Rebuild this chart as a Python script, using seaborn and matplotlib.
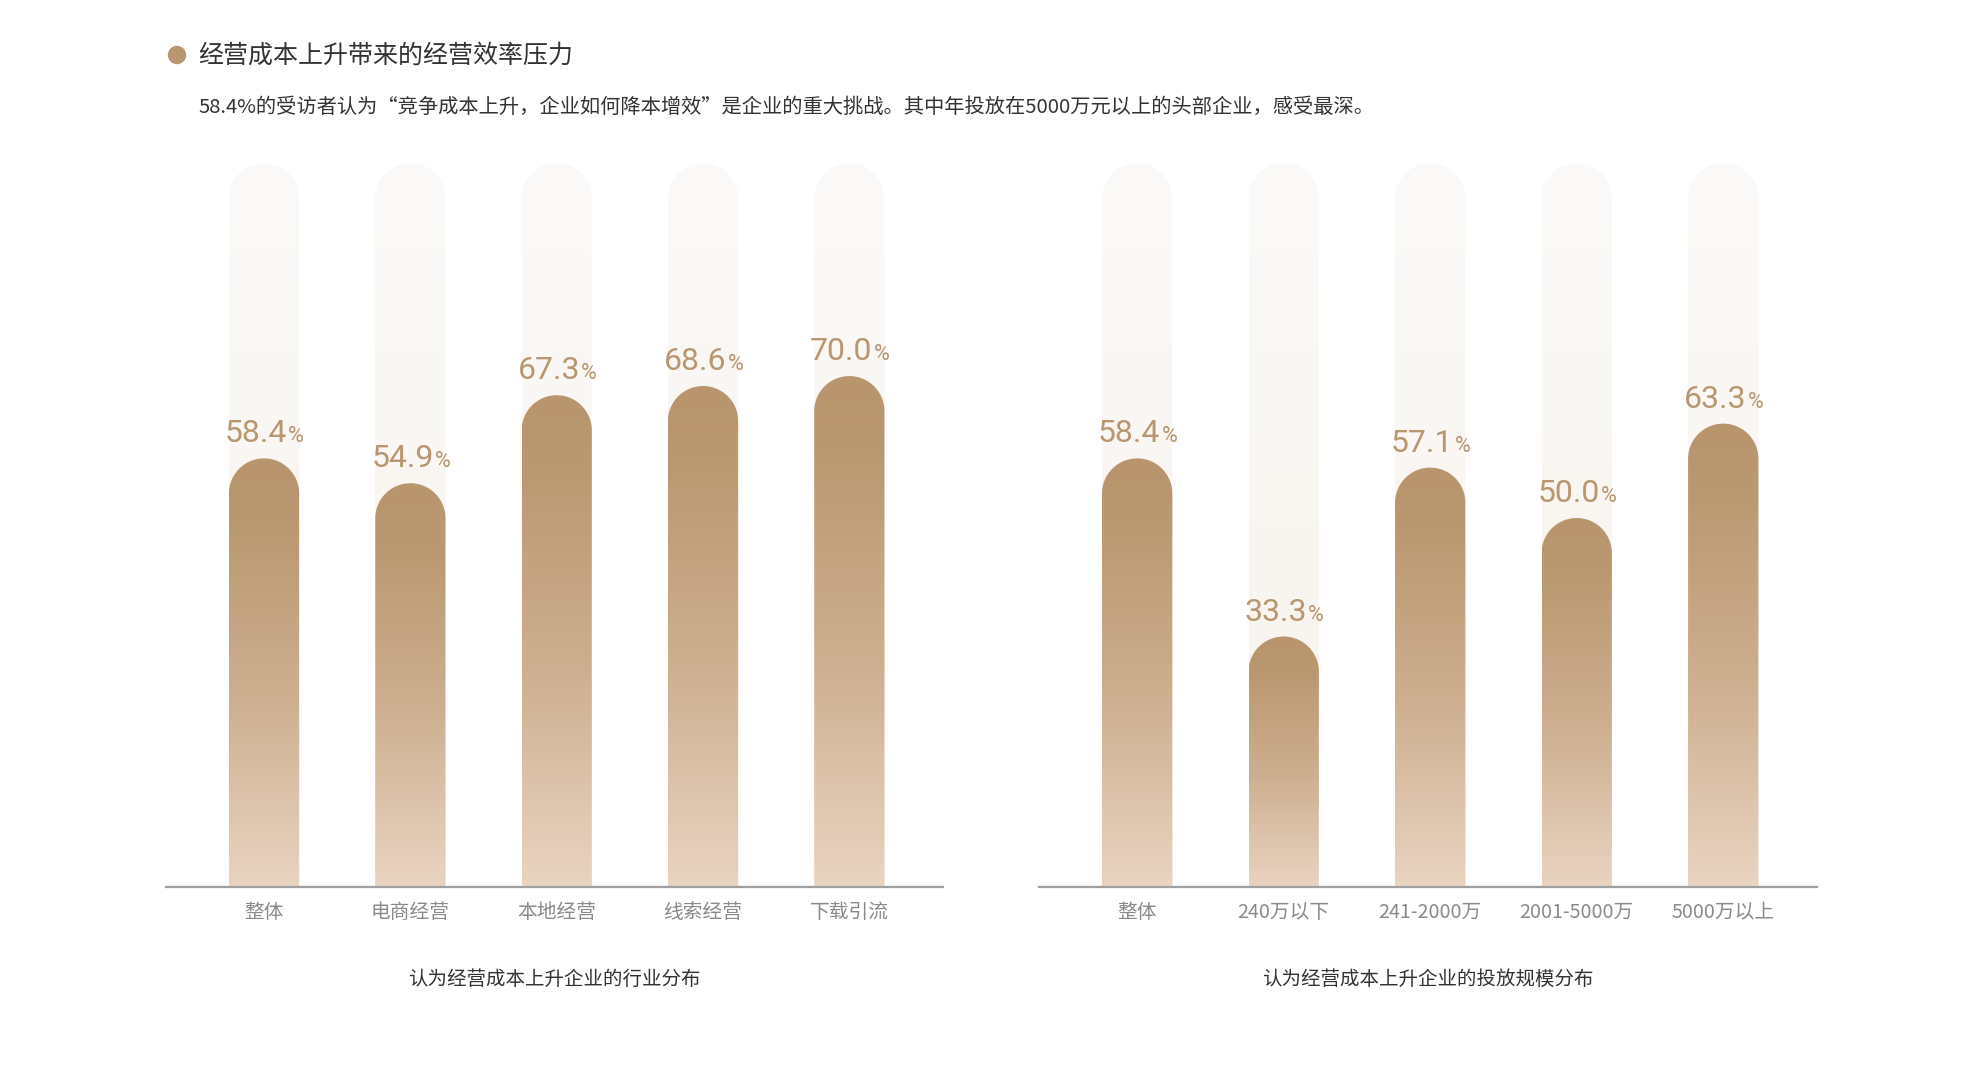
import numpy as np
import pandas as pd
import matplotlib
matplotlib.use('Agg')
import matplotlib.pyplot as plt
import seaborn as sns
from matplotlib.path import Path
from matplotlib.patches import PathPatch, Ellipse
from matplotlib.colors import LinearSegmentedColormap

# ---------------- data ----------------
industry_cats = ['整体', '电商经营', '本地经营', '线索经营', '下载引流']
industry_vals = [58.4, 54.9, 67.3, 68.6, 70.0]
scale_cats = ['整体', '240万以下', '241-2000万', '2001-5000万', '5000万以上']
scale_vals = [58.4, 33.3, 57.1, 50.0, 63.3]
full_scale = [100, 100, 100, 100, 100]

title = '经营成本上升带来的经营效率压力'
subtitle = ('58.4%的受访者认为“竞争成本上升，企业如何降本增效”是企业的重大挑战。'
            '其中年投放在5000万元以上的头部企业，感受最深。')
panel_titles = ['认为经营成本上升企业的行业分布', '认为经营成本上升企业的投放规模分布']

# ---------------- style ----------------
sns.set_theme(style='white')
plt.rcParams['font.family'] = ['Noto Sans CJK SC', 'DejaVu Sans']

ACCENT = '#B8966F'
BAR_CMAP = LinearSegmentedColormap.from_list(
    'bar', [(0.0, '#E9D4C1'), (0.45, '#CDAE8F'), (0.85, '#BA9871'), (1.0, '#B8956D')])
BG_CMAP = LinearSegmentedColormap.from_list('bg', ['#F7F2ED', '#F9F6F2', '#FBFAF8'])
CAP_EXTRA = 2.0
XLIM = (-0.67, 4.64)
YLIM = (0, 104)
BAR_W = 0.48

W, H = 1981, 1080
fig = plt.figure(figsize=(W / 100, H / 100), dpi=100)
fig.patch.set_facecolor('white')


def capsule(ax, x0, w, top, k_x, k_y):
    r_px = w * k_x / 2
    ry = r_px / k_y
    xc = x0 + w / 2
    th = np.linspace(np.pi, 0, 80)
    xs = np.concatenate([[x0, x0], xc + w / 2 * np.cos(th), [x0 + w, x0 + w]])
    ys = np.concatenate([[-5, top - ry], top - ry + ry * np.sin(th), [top - ry, -5]])
    verts = np.column_stack([xs, ys])
    verts = np.vstack([verts, verts[0]])
    codes = [Path.MOVETO] + [Path.LINETO] * (len(verts) - 2) + [Path.CLOSEPOLY]
    return PathPatch(Path(verts, codes), facecolor='none', edgecolor='none',
                     transform=ax.transData)


def draw_panel(ax, cats, vals, ptitle):
    df = pd.DataFrame({'cat': cats, 'val': vals, 'full': full_scale})
    sns.barplot(data=df, x='cat', y='full', ax=ax, width=BAR_W, color='#F8F4F0',
                saturation=1, errorbar=None)
    n_bg = len(ax.patches)
    sns.barplot(data=df, x='cat', y='val', ax=ax, width=BAR_W, color=ACCENT,
                saturation=1, errorbar=None)
    ax.set_xlim(*XLIM)
    ax.set_ylim(*YLIM)
    bbox = ax.get_window_extent()
    k_x = bbox.width / (XLIM[1] - XLIM[0])
    k_y = bbox.height / (YLIM[1] - YLIM[0])
    renderer = fig.canvas.get_renderer()
    grad = np.linspace(0, 1, 256).reshape(-1, 1)
    patches = list(ax.patches)
    for i, p in enumerate(patches):
        x0, w, h = p.get_x(), p.get_width(), p.get_height()
        p.remove()
        is_bg = i < n_bg
        top = h + CAP_EXTRA
        cap = capsule(ax, x0, w, top, k_x, k_y)
        ax.add_patch(cap)
        im = ax.imshow(grad, cmap=BG_CMAP if is_bg else BAR_CMAP, origin='lower',
                       extent=[x0, x0 + w, 0, top], aspect='auto',
                       interpolation='bicubic', zorder=1 if is_bg else 2)
        im.set_clip_path(cap)
        if not is_bg:
            xc = x0 + w / 2
            num = f'{h:.1f}'
            t1 = ax.annotate(num, xy=(xc, top), xytext=(0, 11.5), textcoords='offset points',
                             ha='left', va='baseline', fontsize=23, color=ACCENT,
                             family='Roboto', fontweight='normal', zorder=5)
            t2 = ax.annotate('%', xy=(xc, top), xytext=(0, 11.5), textcoords='offset points',
                             ha='left', va='baseline', fontsize=15.5, color=ACCENT,
                             family='Roboto', fontweight='normal', zorder=5)
            w1 = t1.get_window_extent(renderer).width
            w2 = t2.get_window_extent(renderer).width
            tot = w1 + w2
            t1.set_position((-tot / 2 * 0.72, 11.5))
            t2.set_position(((-tot / 2 + w1 + 1) * 0.72, 11.5))
    ax.set_xlim(*XLIM)
    ax.set_ylim(*YLIM)
    ax.set_xlabel('')
    ax.set_ylabel('')
    ax.set_yticks([])
    ax.tick_params(axis='x', length=0, pad=11, labelsize=14.2, labelcolor='#8a8a8a')
    for s in ['top', 'left', 'right']:
        ax.spines[s].set_visible(False)
    ax.spines['bottom'].set_color('#a0a0a0')
    ax.spines['bottom'].set_linewidth(1.6)
    ax.spines['bottom'].set_zorder(6)
    ax.set_facecolor('white')
    ax.text(0.5, -0.1247, ptitle, transform=ax.transAxes, ha='center', va='center',
            fontsize=14, color='#333333')


bottom = (H - 887) / H
height = 738 / H
ax1 = fig.add_axes([166 / W, bottom, 777 / W, height])
ax2 = fig.add_axes([1039 / W, bottom, 778 / W, height])
draw_panel(ax1, industry_cats, industry_vals, panel_titles[0])
draw_panel(ax2, scale_cats, scale_vals, panel_titles[1])

fig.add_artist(Ellipse((177 / W, 1 - 55 / H), width=17 / W, height=17 / H,
                       transform=fig.transFigure, color=ACCENT))
fig.text(198 / W, 1 - 56 / H, title, fontsize=18, color='#333333', va='center', ha='left')
fig.text(198 / W, 1 - 107 / H, subtitle, fontsize=14.6, color='#333333', va='center', ha='left')

fig.savefig('out.png', dpi=100, facecolor='white')
